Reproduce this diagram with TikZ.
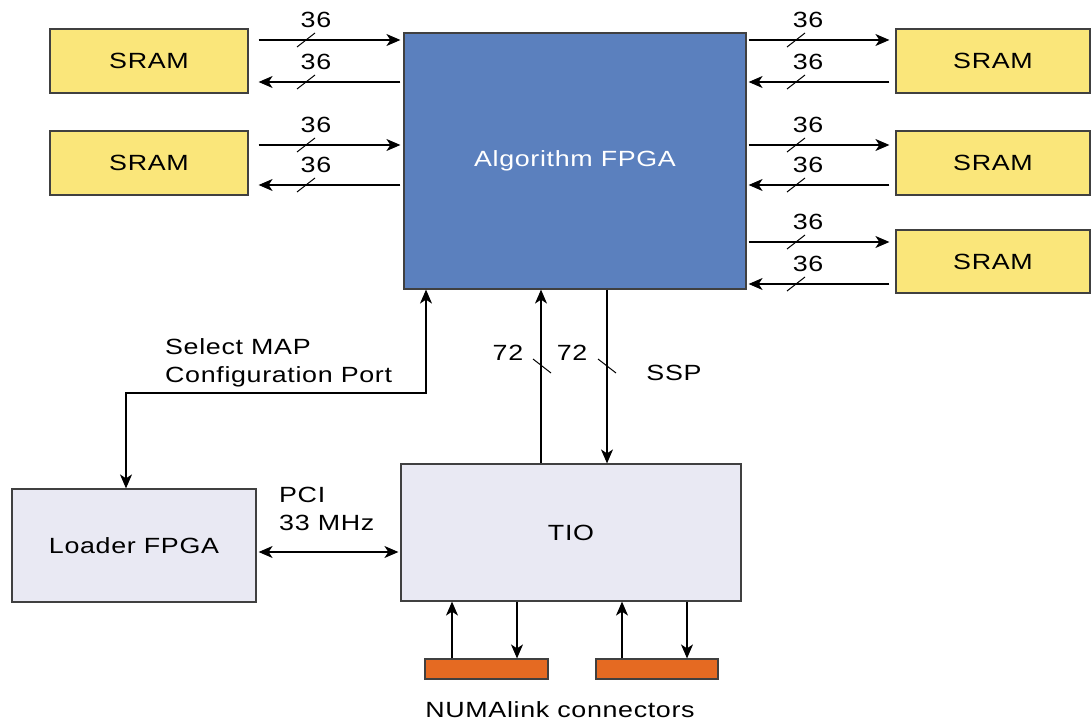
\documentclass[tikz,border=0pt]{standalone}
\usepackage{fontspec}
\setmainfont{Liberation Sans}[FakeStretch=1.22,LetterSpace=3]
\usetikzlibrary{arrows.meta,calc}
\definecolor{sramy}{HTML}{FAE67A}
\definecolor{fpgab}{HTML}{5B80BE}
\definecolor{lgray}{HTML}{E9E9F3}
\definecolor{orng}{HTML}{E56A22}
\definecolor{edge}{HTML}{404040}
\begin{document}
\begin{tikzpicture}[x=1pt,y=-1pt,
  box/.style={draw=edge,line width=1.2pt,anchor=center,inner sep=0pt,font=\fontsize{22}{27}\selectfont},
  sram/.style={box,fill=sramy,minimum height=64pt},
  tip/.tip={Stealth[length=14pt,width=12pt,inset=4pt]},
  arr/.style={line width=1.1pt,-tip},
  barr/.style={line width=1.1pt,tip-tip},
  lbl/.style={font=\fontsize{22}{28}\selectfont,inner sep=0pt},
  slash/.style={line width=1pt}]
\useasboundingbox (0,0) rectangle (1092,722);
% boxes
\node[sram,minimum width=198pt] (sl1) at (149,61) {SRAM};
\node[sram,minimum width=198pt] (sl2) at (149,163) {SRAM};
\node[sram,minimum width=194pt] (sr1) at (993,61) {SRAM};
\node[sram,minimum width=194pt] (sr2) at (993,163) {SRAM};
\node[sram,minimum width=194pt,minimum height=63pt] (sr3) at (993,261.5) {SRAM};
\node[box,fill=fpgab,text=white,minimum width=342pt,minimum height=256pt] (fpga) at (575,161) {Algorithm FPGA};
\node[box,fill=lgray,minimum width=244pt,minimum height=113pt] (loader) at (134,545.5) {Loader FPGA};
\node[box,fill=lgray,minimum width=340pt,minimum height=137pt] (tio) at (571,532.5) {TIO};
\node[box,fill=orng,minimum width=123pt,minimum height=20pt] (n1) at (486.5,669) {};
\node[box,fill=orng,minimum width=122pt,minimum height=20pt] (n2) at (657,669) {};
% left buses
\foreach \s/\ya/\yb in {sl1/40/82, sl2/145/185}{
  \draw[arr,shorten <=10pt,shorten >=3pt] (\s.east |- 0,\ya) -- (fpga.west |- 0,\ya);
  \draw[arr,shorten <=3pt,shorten >=10pt] (fpga.west |- 0,\yb) -- (\s.east |- 0,\yb);
  \draw[slash] (297,\ya+7) -- (315,\ya-7);
  \draw[slash] (297,\yb+7) -- (315,\yb-7);
  \node[lbl] (l\s a) at (316,\ya-20) {36};
  \node[lbl] (l\s b) at (316,\yb-20) {36};
}
% right buses
\foreach \s/\ya/\yb in {sr1/40/82, sr2/145/185, sr3/242/284}{
  \draw[arr,shorten <=2pt,shorten >=6pt] (fpga.east |- 0,\ya) -- (\s.west |- 0,\ya);
  \draw[arr,shorten <=6pt,shorten >=2pt] (\s.west |- 0,\yb) -- (fpga.east |- 0,\yb);
  \draw[slash] (787,\ya+7) -- (805,\ya-7);
  \draw[slash] (787,\yb+7) -- (805,\yb-7);
  \node[lbl] (l\s a) at (808,\ya-20) {36};
  \node[lbl] (l\s b) at (808,\yb-20) {36};
}
% select map
\draw[barr] (loader.north -| 126,0) |- (426,393) -- (fpga.south -| 426,0);
\node[lbl,align=left,anchor=north west] (sel) at (165,338) {Select MAP\\Configuration Port};
% 72 buses
\draw[arr] (tio.north -| 541,0) -- (fpga.south -| 541,0);
\draw[arr] (fpga.south -| 607,0) -- (tio.north -| 607,0);
\draw[slash] (533,359) -- (551,373);
\draw[slash] (598,359) -- (616,373);
\node[lbl] (t1) at (508,353) {72};
\node[lbl] (t2) at (572,353) {72};
\node[lbl] (ssp) at (674,373) {SSP};
% PCI
\draw[barr,shorten <=2pt,shorten >=2pt] (loader.east |- 0,552) -- (tio.west |- 0,552);
\node[lbl,align=left,anchor=north west] (pci) at (279,487) {PCI\\33 MHz};
% NUMAlink
\draw[arr] (n1.north -| 452,0) -- (tio.south -| 452,0);
\draw[arr] (tio.south -| 517,0) -- (n1.north -| 517,0);
\draw[arr] (n2.north -| 622,0) -- (tio.south -| 622,0);
\draw[arr] (tio.south -| 687,0) -- (n2.north -| 687,0);
\node[lbl] (numa) at (560,710) {NUMAlink connectors};
\end{tikzpicture}
\end{document}
